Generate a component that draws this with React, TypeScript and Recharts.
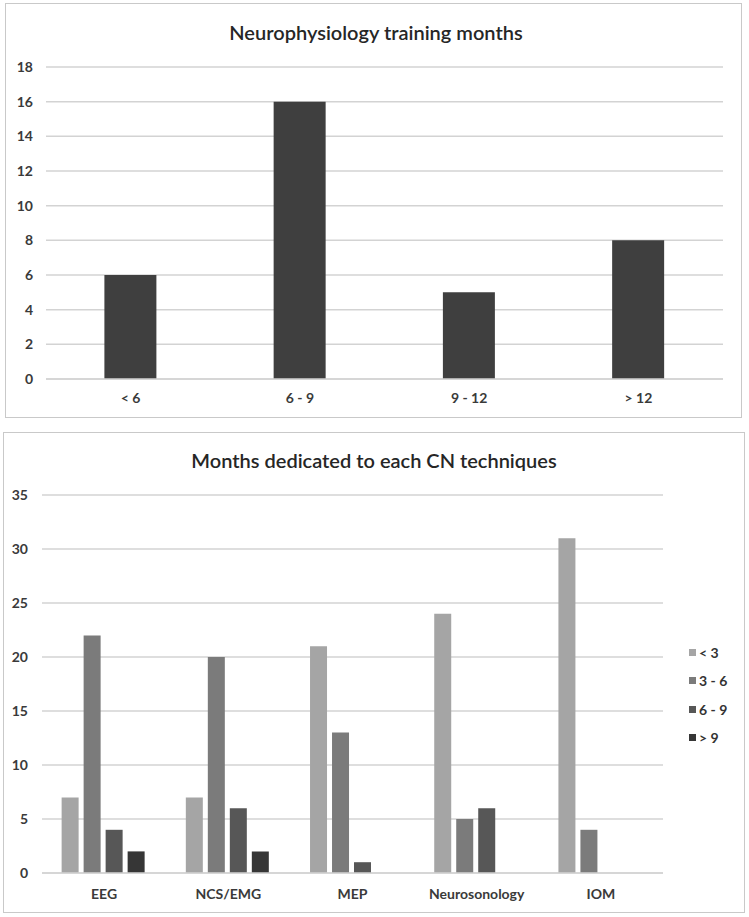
import { BarChart, Bar, XAxis, YAxis, CartesianGrid, Legend } from 'recharts';

// top chart
const trainingRanges = ['< 6', '6 - 9', '9 - 12', '> 12'];
const trainingCounts = [6, 16, 5, 8];
const trainingTicks = [0, 2, 4, 6, 8, 10, 12, 14, 16, 18];

// bottom chart
const techniques = ['EEG', 'NCS/EMG', 'MEP', 'Neurosonology', 'IOM'];
const monthGroups = ['< 3', '3 - 6', '6 - 9', '> 9'];
const lessThan3 = [7, 7, 21, 24, 31];
const from3to6 = [22, 20, 13, 5, 4];
const from6to9 = [4, 6, 1, 6, 0];
const moreThan9 = [2, 2, 0, 0, 0];
const techniqueTicks = [0, 5, 10, 15, 20, 25, 30, 35];

const groupColors = ['#a5a5a5', '#7b7b7b', '#575757', '#363636'];
const FONT = 'Lato, "Open Sans", sans-serif';

const trainingData = trainingRanges.map((name, i) => ({ name, value: trainingCounts[i] }));
const techniqueData = techniques.map((name, i) => ({
  name,
  g0: lessThan3[i],
  g1: from3to6[i],
  g2: from6to9[i],
  g3: moreThan9[i],
}));

const tickStyle = { fontFamily: FONT, fontSize: 14, fontWeight: 700, fill: '#3a3a3a' };
const titleStyle = {
  position: 'absolute' as const,
  fontFamily: FONT,
  fontSize: 20,
  fontWeight: 600,
  color: '#262626',
  textAlign: 'center' as const,
  lineHeight: '24px',
};

const GroupLegend = () => (
  <div style={{ width: 60, paddingLeft: 26, boxSizing: 'border-box', fontFamily: FONT }}>
    {monthGroups.map((g, i) => (
      <div key={g} style={{ height: 28.5, display: 'flex', alignItems: 'center', whiteSpace: 'nowrap', fontSize: 14, fontWeight: 700, color: '#333' }}>
        <span style={{ width: 7, height: 7, flex: 'none', background: groupColors[i], marginRight: 3, display: 'inline-block' }} />
        {g}
      </div>
    ))}
  </div>
);

export default function App() {
  return (
    <div style={{ position: 'absolute', left: 0, top: 0, width: 749, height: 917, background: '#fff' }}>
      <div style={{ position: 'absolute', left: 5, top: 3, width: 735, height: 413, border: '1.5px solid #c9c9c9' }} />
      <div style={{ position: 'absolute', left: 3, top: 432, width: 740, height: 479, border: '1.5px solid #c9c9c9' }} />

      <div style={{ ...titleStyle, left: 5, width: 742, top: 20 }}>Neurophysiology training months</div>
      <div style={{ ...titleStyle, left: 3, width: 742, top: 448 }}>Months dedicated to each CN techniques</div>

      <div style={{ position: 'absolute', left: 0, top: 0 }}>
        <BarChart width={749} height={418} data={trainingData} margin={{ top: 67, right: 26, left: 6, bottom: 9 }} barCategoryGap="34.5%">
          <CartesianGrid vertical={false} stroke="#d3d3d3" strokeWidth={1.5} />
          <XAxis dataKey="name" height={30} tickLine={false} tickSize={0} tickMargin={14} axisLine={{ stroke: '#d3d3d3', strokeWidth: 1.5 }} tick={tickStyle} />
          <YAxis width={40} domain={[0, 18]} ticks={trainingTicks} axisLine={false} tickLine={false} tickSize={0} tickMargin={13} tick={tickStyle} />
          <Bar dataKey="value" fill="#3f3f3f" isAnimationActive={false} />
        </BarChart>
      </div>

      <div style={{ position: 'absolute', left: 0, top: 432 }}>
        <BarChart width={749} height={481} data={techniqueData} margin={{ top: 63, right: 26, left: 4, bottom: 10 }} barCategoryGap="15.8%" barGap={5}>
          <CartesianGrid vertical={false} stroke="#d3d3d3" strokeWidth={1.5} />
          <XAxis dataKey="name" height={30} tickLine={false} tickSize={0} tickMargin={16} axisLine={{ stroke: '#d3d3d3', strokeWidth: 1.5 }} tick={tickStyle} />
          <YAxis width={38} domain={[0, 35]} ticks={techniqueTicks} axisLine={false} tickLine={false} tickSize={0} tickMargin={14} tick={tickStyle} />
          <Legend layout="vertical" align="right" verticalAlign="middle" wrapperStyle={{ top: 206 }} content={() => <GroupLegend />} />
          {monthGroups.map((g, i) => (
            <Bar key={g} dataKey={`g${i}`} name={g} fill={groupColors[i]} isAnimationActive={false} />
          ))}
        </BarChart>
      </div>
    </div>
  );
}
